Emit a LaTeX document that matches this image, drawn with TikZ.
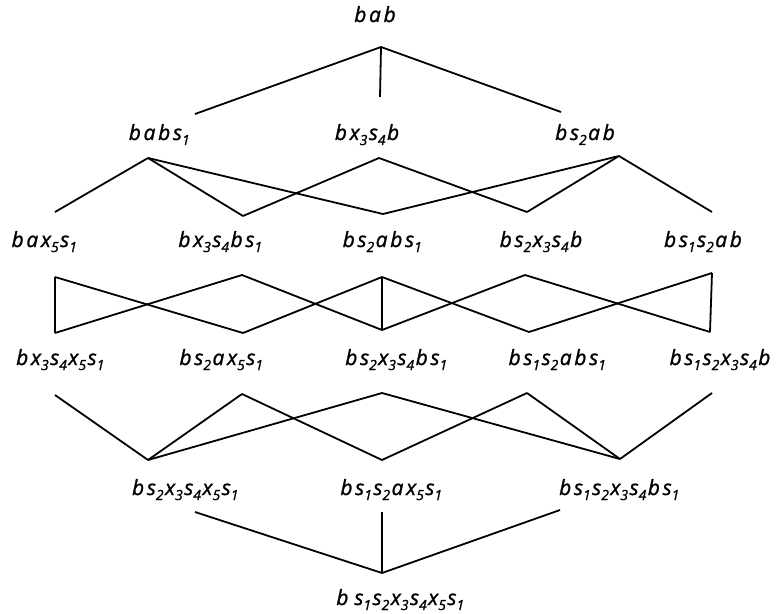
\documentclass[tikz,border=0pt]{standalone}
\usepackage{fontspec}
\newfontfamily\labfam{Open Sans}[LetterSpace=13, FakeBold=1.2]
\newfontfamily\idxfam{Open Sans}[LetterSpace=20, FakeBold=1.2]
\newcommand\labfont{\fontsize{21}{25}\selectfont\labfam\itshape}
% lowered index digit
\newcommand\ix[1]{\raisebox{-5bp}{\fontsize{14}{14}\selectfont\idxfam\itshape #1\hspace{1.5bp}}}
\tikzset{
  lbl/.style={anchor=base, inner sep=0pt, font=\labfont},
  edge/.style={line width=1.8bp, line cap=butt}
}
\begin{document}
\begin{tikzpicture}[x=1bp, y=-1bp]
\useasboundingbox (0,0) rectangle (781,614);
\fill[white] (0,0) rectangle (781,614);

% ---- labels, level by level ----
\node[lbl] (r0)  at (375,22)  {bab};

\node[lbl] (r1a) at (160,140) {babs\ix{1}};
\node[lbl] (r1b) at (367,140) {bx\ix{3}s\ix{4}b};
\node[lbl] (r1c) at (585,140) {bs\ix{2}ab};

\node[lbl] (r2a) at (45,247)  {bax\ix{5}s\ix{1}};
\node[lbl] (r2b) at (221,247) {bx\ix{3}s\ix{4}bs\ix{1}};
\node[lbl] (r2c) at (383,247) {bs\ix{2}abs\ix{1}};
\node[lbl] (r2d) at (541,247) {bs\ix{2}x\ix{3}s\ix{4}b};
\node[lbl] (r2e) at (703,247) {bs\ix{1}s\ix{2}ab};

\node[lbl] (r3a) at (61,365)  {bx\ix{3}s\ix{4}x\ix{5}s\ix{1}};
\node[lbl] (r3b) at (222,365) {bs\ix{2}ax\ix{5}s\ix{1}};
\node[lbl] (r3c) at (397,365) {bs\ix{2}x\ix{3}s\ix{4}bs\ix{1}};
\node[lbl] (r3d) at (558,365) {bs\ix{1}s\ix{2}abs\ix{1}};
\node[lbl] (r3e) at (720,365) {bs\ix{1}s\ix{2}x\ix{3}s\ix{4}b};

\node[lbl] (r4a) at (186,495) {bs\ix{2}x\ix{3}s\ix{4}x\ix{5}s\ix{1}};
\node[lbl] (r4b) at (392,495) {bs\ix{1}s\ix{2}ax\ix{5}s\ix{1}};
\node[lbl] (r4c) at (620,495) {bs\ix{1}s\ix{2}x\ix{3}s\ix{4}bs\ix{1}};

\node[lbl] (r5)  at (401,605) {b\hspace{6bp}s\ix{1}s\ix{2}x\ix{3}s\ix{4}x\ix{5}s\ix{1}};

% ---- line ends above (u) and below (d) each label ----
\coordinate (r0d) at (381,47);
\coordinate (r1a-u) at (195,114); \coordinate (r1b-u) at (380,97);  \coordinate (r1c-u) at (561,112);
\coordinate (r1a-d) at (148,158); \coordinate (r1b-d) at (379,158); \coordinate (r1c-d) at (619,156);
\coordinate (r2a-u) at (55,212);  \coordinate (r2b-u) at (243,216); \coordinate (r2c-u) at (383,214);
\coordinate (r2d-u) at (527,212); \coordinate (r2e-u) at (712,212);
\coordinate (r2a-d) at (55,277);  \coordinate (r2b-d) at (242,275); \coordinate (r2c-d) at (382,277);
\coordinate (r2d-d) at (525,275); \coordinate (r2e-d) at (712,273);
\coordinate (r3a-u) at (55,333);  \coordinate (r3b-u) at (243,333); \coordinate (r3c-u) at (382,330);
\coordinate (r3d-u) at (529,332); \coordinate (r3e-u) at (710,332);
\coordinate (r3a-d) at (55,395);  \coordinate (r3b-d) at (242,394); \coordinate (r3c-d) at (382,393);
\coordinate (r3d-d) at (527,393); \coordinate (r3e-d) at (712,393);
\coordinate (r4a-u) at (148,460); \coordinate (r4b-u) at (382,460); \coordinate (r4c-u) at (620,459);
\coordinate (r4a-d) at (195,512); \coordinate (r4b-d) at (382,512); \coordinate (r4c-d) at (560,510);
\coordinate (r5u) at (382,573);

% ---- covering relations ----
\foreach \p/\q in {r0d/r1a-u, r0d/r1b-u, r0d/r1c-u,
    r1a-d/r2a-u, r1a-d/r2b-u, r1a-d/r2c-u,
    r1b-d/r2b-u, r1b-d/r2d-u,
    r1c-d/r2c-u, r1c-d/r2d-u, r1c-d/r2e-u,
    r2a-d/r3a-u, r2a-d/r3b-u,
    r2b-d/r3a-u, r2b-d/r3c-u,
    r2c-d/r3b-u, r2c-d/r3c-u, r2c-d/r3d-u,
    r2d-d/r3c-u, r2d-d/r3e-u,
    r2e-d/r3d-u, r2e-d/r3e-u,
    r3a-d/r4a-u,
    r3b-d/r4a-u, r3b-d/r4b-u,
    r3c-d/r4a-u, r3c-d/r4c-u,
    r3d-d/r4b-u, r3d-d/r4c-u,
    r3e-d/r4c-u,
    r4a-d/r5u, r4b-d/r5u, r4c-d/r5u}
  \draw[edge] (\p) -- (\q);
\end{tikzpicture}
\end{document}
